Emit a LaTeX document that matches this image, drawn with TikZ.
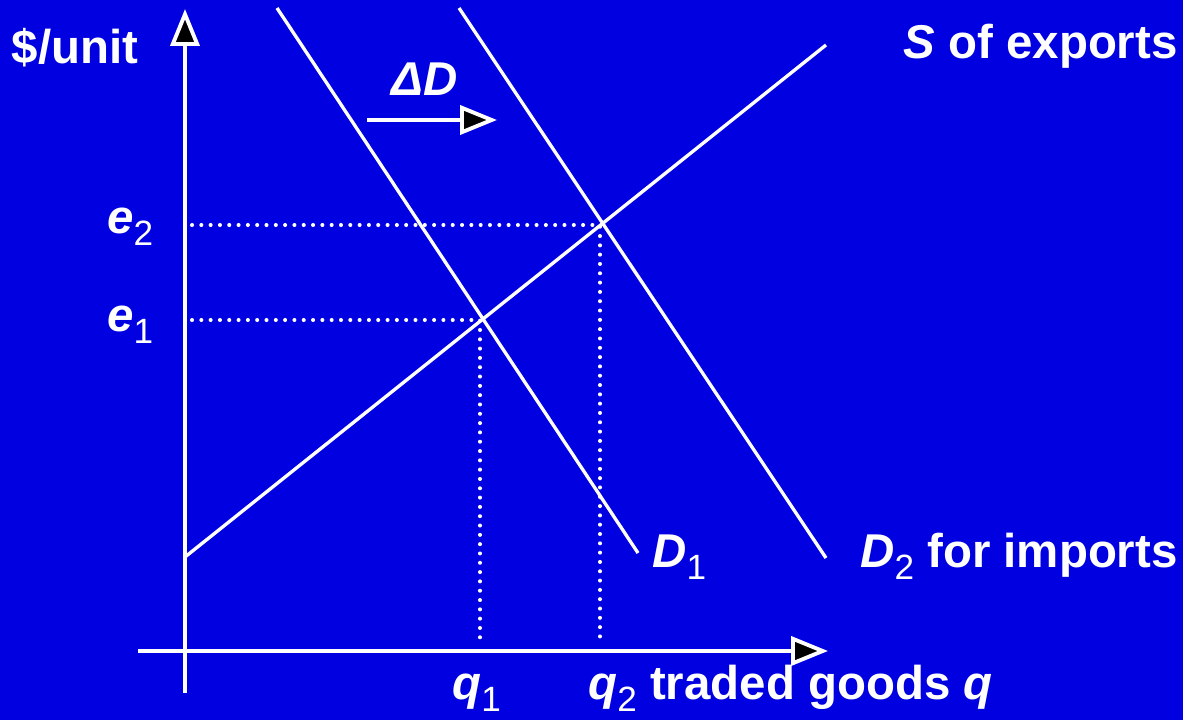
\documentclass[tikz,border=0pt]{standalone}
\usepackage{fontspec}
\setmainfont{Liberation Sans}
\usetikzlibrary{arrows.meta}
\definecolor{bgblue}{RGB}{0,0,224}
\newcommand{\lowsub}[1]{\raisebox{-0.26em}{\fontsize{20}{20}\selectfont\mdseries #1}}
\tikzset{
  ln/.style={white, line width=1.9pt},
  dot/.style={white, line width=2.3pt, line cap=round, dash pattern=on 0pt off 5.3pt},
  ax/.style={white, line width=1.9pt, -{Triangle[fill=black, length=21pt, width=16.5pt, line join=miter, line width=2.2pt]}},
  lbl/.style={text=white, font=\fontsize{27}{30}\selectfont\bfseries, inner sep=0pt},
}
\begin{document}
\begin{tikzpicture}[x=0.02cm, y=-0.02cm]
\fill[bgblue] (0,0) rectangle (1183,720);
\useasboundingbox (0,0) rectangle (1183,720);
% coordinates
\coordinate (yb) at (185,693);
\coordinate (yt) at (185,9);
\coordinate (xl) at (138,651);
\coordinate (xr) at (828,651);
\coordinate (s0) at (185,557);
\coordinate (s1) at (826,45);
\coordinate (d1a) at (277,8);
\coordinate (d1b) at (638,553);
\coordinate (d2a) at (459,8);
\coordinate (d2b) at (826,558);
\coordinate (E1) at (480,320);
\coordinate (E2) at (600,225);
\coordinate (e1y) at (192,320);
\coordinate (e2y) at (192,225);
\coordinate (q1x) at (480,645);
\coordinate (q2x) at (600,645);
\coordinate (da) at (367,120);
\coordinate (db) at (497,120);
% dotted guides
\draw[dot] (e1y) -- (E1) -- (q1x);
\draw[dot] (e2y) -- (E2) -- (q2x);
% axes
\draw[ax] (yb) -- (yt);
\draw[ax] (xl) -- (xr);
% curves
\draw[ln] (s0) -- (s1);
\draw[ln] (d1a) -- (d1b);
\draw[ln] (d2a) -- (d2b);
% shift arrow
\draw[ax] (da) -- (db);
% labels
\node[lbl, anchor=base] (yl) at (75,63) {\$/unit};
\node[lbl, anchor=base east] (sl) at (1178,58) {\textit{S} of exports};
\node[lbl, anchor=base] (dl) at (425,95) {\textit{ΔD}};
\node[lbl, anchor=base west] (e2l) at (107,233) {\textit{e}\lowsub{2}};
\node[lbl, anchor=base west] (e1l) at (107,331) {\textit{e}\lowsub{1}};
\node[lbl, anchor=base west] (d1l) at (652,567) {\textit{D}\lowsub{1}};
\node[lbl, anchor=base east] (d2l) at (1178,567) {\textit{D}\lowsub{2} for imports};
\node[lbl, anchor=base west] (q1l) at (452,699) {\textit{q}\lowsub{1}};
\node[lbl, anchor=base west] (q2l) at (588,699) {\textit{q}\lowsub{2} traded goods \textit{q}};
\end{tikzpicture}
\end{document}
